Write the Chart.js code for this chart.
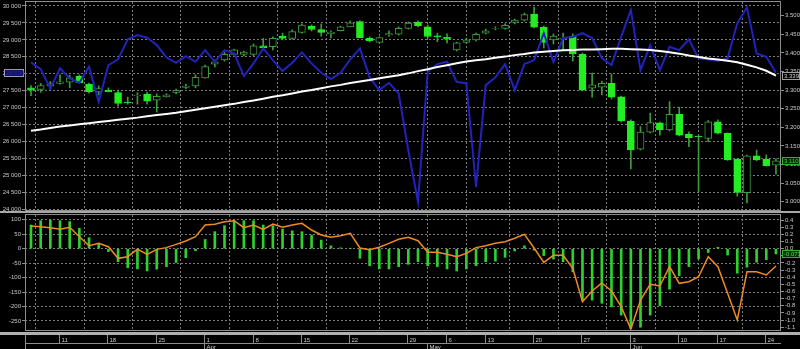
<!DOCTYPE html>
<html>
<head>
<meta charset="utf-8">
<script src="https://cdn.jsdelivr.net/npm/chart.js@4.4.1/dist/chart.umd.min.js"></script>
<style>
  body { margin: 0; background: #000; width: 800px; height: 349px; overflow: hidden; position: relative; }
  canvas { position: absolute; left: 0; }
  #top { top: 0; }
  #bottom { top: 213px; }
</style>
</head>
<body>
<canvas id="top" width="800" height="213"></canvas>
<canvas id="bottom" width="800" height="136"></canvas>
<script>
const dates = [
  '03-06','03-07','03-08',
  '03-11','03-12','03-13','03-14','03-15',
  '03-18','03-19','03-20','03-21','03-22',
  '03-25','03-26','03-27','03-28','03-29',
  '04-01','04-02','04-03','04-04','04-05',
  '04-08','04-09','04-10','04-11','04-12',
  '04-15','04-16','04-17','04-18','04-19',
  '04-22','04-23','04-24','04-25','04-26','04-27',
  '04-29','04-30','05-02','05-03',
  '05-06','05-07','05-08','05-09',
  '05-13','05-14','05-15','05-16','05-17',
  '05-20','05-21','05-22','05-23','05-24',
  '05-27','05-28','05-29','05-30','05-31',
  '06-03','06-04','06-05','06-06','06-07',
  '06-10','06-11','06-12','06-13',
  '06-17','06-18','06-19','06-20','06-21',
  '06-24','06-25'
];

const open = [3.306,3.302,3.311,3.318,3.321,3.337,3.316,3.295,3.300,3.293,
  3.268,3.285,3.289,3.273,3.282,3.294,3.307,3.311,3.333,3.370,
  3.381,3.396,3.396,3.396,3.419,3.417,3.445,3.439,3.455,3.472,
  3.463,3.452,3.460,3.470,3.484,3.439,3.428,3.448,3.450,3.466,
  3.483,3.470,3.446,3.442,3.408,3.428,3.435,3.453,3.466,3.466,
  3.482,3.488,3.504,3.469,3.435,3.437,3.444,3.396,3.305,3.308,
  3.318,3.282,3.217,3.141,3.187,3.212,3.193,3.235,3.181,3.176,
  3.170,3.215,3.184,3.114,3.024,3.123,3.114,3.098];
const high = [3.312,3.318,3.323,3.341,3.340,3.341,3.319,3.311,3.306,3.300,
  3.281,3.293,3.295,3.290,3.290,3.303,3.316,3.341,3.367,3.381,
  3.402,3.410,3.405,3.424,3.439,3.443,3.453,3.462,3.478,3.475,
  3.478,3.459,3.472,3.486,3.486,3.443,3.443,3.459,3.470,3.483,
  3.486,3.475,3.453,3.451,3.429,3.440,3.453,3.464,3.470,3.478,
  3.491,3.507,3.523,3.472,3.451,3.453,3.451,3.400,3.346,3.324,
  3.343,3.284,3.220,3.202,3.238,3.214,3.269,3.254,3.188,3.179,
  3.218,3.220,3.185,3.115,3.125,3.139,3.126,3.115];
const low = [3.285,3.294,3.300,3.316,3.306,3.319,3.292,3.287,3.295,3.257,
  3.262,3.262,3.262,3.241,3.281,3.290,3.304,3.306,3.332,3.362,
  3.378,3.394,3.392,3.392,3.408,3.408,3.437,3.437,3.453,3.459,
  3.445,3.440,3.459,3.470,3.440,3.429,3.427,3.445,3.448,3.464,
  3.470,3.440,3.430,3.427,3.405,3.427,3.432,3.451,3.462,3.464,
  3.478,3.486,3.467,3.413,3.424,3.408,3.378,3.298,3.281,3.287,
  3.276,3.214,3.088,3.139,3.185,3.179,3.190,3.177,3.148,3.027,
  3.161,3.182,3.111,3.015,2.997,3.110,3.096,3.074];
const close = [3.300,3.312,3.317,3.322,3.333,3.320,3.296,3.304,3.296,3.264,
  3.266,3.286,3.270,3.283,3.287,3.298,3.311,3.334,3.363,3.376,
  3.396,3.408,3.402,3.419,3.414,3.439,3.439,3.457,3.475,3.463,
  3.455,3.456,3.470,3.481,3.441,3.433,3.441,3.452,3.466,3.480,
  3.473,3.444,3.443,3.437,3.427,3.435,3.450,3.459,3.467,3.474,
  3.488,3.503,3.469,3.428,3.445,3.439,3.397,3.300,3.314,3.318,
  3.281,3.217,3.139,3.187,3.213,3.193,3.235,3.179,3.172,3.175,
  3.215,3.184,3.112,3.025,3.123,3.112,3.097,3.110];

// blue line, left axis
const indexLine = [28335,28138,27567,28160,27863,27733,28206,27171,28256,28424,
  29016,29143,29063,28847,28483,28324,28522,28354,28699,28354,
  28699,28601,27931,28305,28749,28404,28079,28324,28631,28305,
  28030,27842,28030,28424,28749,27892,27517,27733,27419,25743,
  24215,28058,28285,28354,27762,27714,24658,27665,27892,28285,
  27517,28285,28404,29200,28345,29054,29084,29202,29054,28463,
  28256,29093,29882,28108,28847,28108,28797,28699,29016,28454,
  28424,28383,28454,29488,29961,28601,28502,28030];

// white moving average, right axis
const avgLine = [3.191,3.194,3.198,3.202,3.205,3.208,3.211,3.214,3.217,3.220,
  3.223,3.226,3.230,3.233,3.236,3.239,3.243,3.247,3.251,3.255,
  3.259,3.263,3.268,3.272,3.277,3.282,3.286,3.291,3.296,3.300,
  3.305,3.310,3.314,3.319,3.323,3.327,3.332,3.336,3.340,3.345,
  3.351,3.356,3.362,3.367,3.372,3.377,3.380,3.383,3.387,3.390,
  3.394,3.397,3.401,3.403,3.405,3.407,3.408,3.409,3.409,3.410,
  3.411,3.411,3.410,3.409,3.408,3.405,3.402,3.398,3.393,3.389,
  3.385,3.382,3.379,3.375,3.368,3.361,3.352,3.339];

// lower panel
const histogram = [0.332,0.393,0.401,0.393,0.381,0.287,0.154,0.077,-0.040,-0.182,
  -0.267,-0.283,-0.312,-0.287,-0.251,-0.194,-0.126,-0.028,0.130,0.239,
  0.324,0.393,0.393,0.393,0.332,0.324,0.275,0.251,0.239,0.190,
  0.121,0.040,0.012,0.002,-0.134,-0.239,-0.283,-0.283,-0.251,-0.219,
  -0.182,-0.239,-0.251,-0.283,-0.312,-0.283,-0.239,-0.182,-0.174,-0.121,
  -0.032,0.040,-0.020,-0.097,-0.146,-0.182,-0.324,-0.721,-0.721,-0.765,
  -0.814,-0.931,-1.117,-1.101,-0.931,-0.798,-0.567,-0.381,-0.251,-0.142,
  -0.053,0.020,-0.089,-0.344,-0.259,-0.190,-0.154,-0.073];
const signal = [0.320,0.309,0.295,0.272,0.300,0.168,0.042,0.075,0.028,-0.135,
  -0.112,-0.005,-0.079,-0.009,0.015,0.061,0.108,0.168,0.332,0.342,
  0.379,0.393,0.295,0.332,0.272,0.346,0.300,0.332,0.356,0.262,
  0.192,0.160,0.182,0.216,0.010,-0.014,0.020,0.075,0.132,0.160,
  0.112,-0.051,-0.051,-0.079,-0.112,-0.065,0.015,0.042,0.075,0.098,
  0.146,0.202,0.010,-0.191,-0.093,-0.093,-0.275,-0.743,-0.593,-0.480,
  -0.593,-0.813,-1.126,-0.720,-0.500,-0.523,-0.252,-0.486,-0.463,-0.393,
  -0.112,-0.252,-0.626,-1.000,-0.323,-0.323,-0.369,-0.243];

// tick labels
const leftTicks = [24000,24500,25000,25500,26000,26500,27000,27500,28000,28500,29000,29500,30000];
const rightTicks = [3.0,3.05,3.1,3.15,3.2,3.25,3.3,3.35,3.4,3.45,3.5];
const oscLeftTicks = [100,50,0,-50,-100,-150,-200,-250];
const oscRightTicks = [0.4,0.3,0.2,0.1,0,-0.1,-0.2,-0.3,-0.4,-0.5,-0.6,-0.7,-0.8,-0.9,-1.0,-1.1];
const weekTicks = ['03-11','03-18','03-25','04-01','04-08','04-15','04-22','04-29','05-06','05-13','05-20','05-27','06-03','06-10','06-17','06-24'];
const monthStarts = ['04-01','05-02','06-03'];
const monthNames = ['Apr','May','Jun'];

const LABEL = '#c8c8c8';
const FRAME = '#8c8c8c';
const GRID = '#7a7a7a';
Chart.defaults.font.family = '"Liberation Sans", Arial, sans-serif';

const spaced = v => String(v).replace(/\B(?=(\d{3})+(?!\d))/g, ' ');
const pts = arr => arr.map((v, i) => ({ x: i, y: v }));

function xScale() {
  return {
    type: 'linear', min: -0.62, max: 77.52, offset: false,
    afterBuildTicks: s => { s.ticks = weekTicks.map(d => ({ value: dates.indexOf(d) })); },
    afterFit: s => { s.height = 0; s.paddingLeft = 0; s.paddingRight = 0; },
    ticks: { display: false },
    grid: { color: GRID, drawTicks: false, lineWidth: 1 },
    border: { display: false, dash: [2, 2] }
  };
}

function yScale(pos, min, max, ticks, width, fmt, drawGrid) {
  return {
    position: pos, min: min, max: max,
    afterBuildTicks: s => { s.ticks = ticks.map(v => ({ value: v })); },
    afterFit: s => { s.width = width; s.paddingTop = 0; s.paddingBottom = 0; },
    ticks: { color: LABEL, font: { size: 6 }, padding: 1, autoSkip: false, callback: fmt },
    grid: { color: GRID, lineWidth: 1, drawOnChartArea: drawGrid, tickColor: FRAME, tickLength: 3, tickBorderDash: [] },
    border: { display: false, dash: [2, 2] }
  };
}

function valueBox(ctx, x, w, y, text, fill, stroke, color) {
  ctx.fillStyle = fill;
  ctx.fillRect(x, Math.round(y) - 4, w, 8);
  ctx.strokeStyle = stroke;
  ctx.lineWidth = 1;
  ctx.strokeRect(x + 0.5, Math.round(y) - 3.5, w - 1, 7);
  ctx.fillStyle = color;
  ctx.font = '6px "Liberation Sans", Arial';
  ctx.textAlign = 'left';
  ctx.textBaseline = 'middle';
  ctx.fillText(text, x + 2, Math.round(y) + 0.5);
}

const topDecor = {
  id: 'topDecor',
  afterDraw(chart) {
    const { ctx, chartArea: a, scales } = chart;
    ctx.save();
    ctx.strokeStyle = FRAME;
    ctx.lineWidth = 1;
    ctx.strokeRect(a.left + 0.5, a.top - 0.5, a.right - a.left - 1, a.bottom - a.top + 1);
    ctx.fillStyle = '#a8a8a8';
    ctx.fillRect(0, 211, 800, 2);
    const n = dates.length - 1;
    valueBox(ctx, 4, 20, scales.y.getPixelForValue(indexLine[n]), spaced(indexLine[n]), '#12126c', '#9a9aaa', '#26269a');
    valueBox(ctx, 782, 18, scales.yR.getPixelForValue(avgLine[n]), avgLine[n].toFixed(3), '#000', '#a0a0a0', '#d0d0d0');
    valueBox(ctx, 782, 18, scales.yR.getPixelForValue(close[n]), close[n].toFixed(3), '#002800', '#30b030', '#40d040');
    ctx.restore();
  }
};

const bottomDecor = {
  id: 'bottomDecor',
  afterDraw(chart) {
    const { ctx, chartArea: a, scales } = chart;
    ctx.save();
    ctx.strokeStyle = FRAME;
    ctx.lineWidth = 1;
    ctx.strokeRect(a.left + 0.5, a.top - 0.5, a.right - a.left - 1, a.bottom - a.top + 1);
    const n = dates.length - 1;
    valueBox(ctx, 782, 18, scales.yR.getPixelForValue(histogram[n]), histogram[n].toFixed(4), '#003000', '#30b030', '#50e050');

    // date strip
    ctx.fillStyle = '#b0b0b0';
    ctx.fillRect(0, 119, 800, 3);
    ctx.strokeStyle = FRAME;
    ctx.beginPath();
    ctx.moveTo(a.left + 0.5, 122); ctx.lineTo(a.left + 0.5, 136);
    ctx.moveTo(a.left, 130.5); ctx.lineTo(a.right, 130.5);
    ctx.stroke();
    ctx.font = '6px "Liberation Sans", Arial';
    ctx.textAlign = 'left';
    ctx.textBaseline = 'alphabetic';
    ctx.fillStyle = LABEL;
    weekTicks.forEach(d => {
      const x = Math.round(scales.x.getPixelForValue(dates.indexOf(d))) - 0.5;
      ctx.beginPath(); ctx.moveTo(x, 122); ctx.lineTo(x, 130); ctx.stroke();
      ctx.fillText(String(parseInt(d.slice(3), 10)), x + 2, 129);
    });
    monthStarts.forEach((d, k) => {
      const x = Math.round(scales.x.getPixelForValue(dates.indexOf(d))) - 0.5;
      ctx.beginPath(); ctx.moveTo(x, 131); ctx.lineTo(x, 136); ctx.stroke();
      ctx.fillText(monthNames[k], x + 2, 135.5);
    });
    ctx.restore();
  }
};

const base = {
  responsive: false, animation: false, devicePixelRatio: 1, events: [],
  plugins: { legend: { display: false }, tooltip: { enabled: false } }
};

const upCandle = i => close[i] >= open[i];

new Chart('top', {
  type: 'bar',
  data: {
    datasets: [{
      type: 'line', label: 'avg', data: pts(avgLine), yAxisID: 'yR',
      borderColor: '#ffffff', borderWidth: 2, pointRadius: 0, tension: 0, order: 1
    }, {
      type: 'line', label: 'index', data: pts(indexLine), yAxisID: 'y',
      borderColor: '#2222bc', borderWidth: 2, pointRadius: 0, tension: 0, order: 2
    }, {
      label: 'body', data: dates.map((d, i) => ({ x: i, y: [open[i], close[i]] })), yAxisID: 'yR',
      grouped: false, barThickness: 7, borderSkipped: false, borderWidth: 1,
      backgroundColor: c => upCandle(c.dataIndex) ? '#000000' : '#22ee22',
      borderColor: c => upCandle(c.dataIndex) ? '#3c9c3c' : '#22ee22',
      order: 3
    }, {
      label: 'wick', data: dates.map((d, i) => ({ x: i, y: [low[i], high[i]] })), yAxisID: 'yR',
      grouped: false, barThickness: 1, borderWidth: 0,
      backgroundColor: '#3c9c3c', order: 4
    }]
  },
  options: Object.assign({}, base, {
    layout: { padding: { top: 2, bottom: 3, left: 0, right: 0 } },
    scales: {
      x: xScale(),
      y: yScale('left', 23979, 30118, leftTicks, 25, v => spaced(v), true),
      yR: yScale('right', 2.9777, 3.5368, rightTicks, 19, v => v.toFixed(3), false)
    }
  }),
  plugins: [topDecor]
});

new Chart('bottom', {
  type: 'bar',
  data: {
    datasets: [{
      type: 'line', label: 'signal', data: pts(signal), yAxisID: 'yR',
      borderColor: '#f08a24', borderWidth: 1.5, pointRadius: 0, tension: 0, order: 1
    }, {
      label: 'histogram', data: pts(histogram), yAxisID: 'yR',
      barThickness: 2, backgroundColor: '#2ed02e', borderWidth: 0, order: 2
    }]
  },
  options: Object.assign({}, base, {
    layout: { padding: { top: 2, bottom: 19, left: 0, right: 0 } },
    scales: {
      x: xScale(),
      y: yScale('left', -281.6, 116.7, oscLeftTicks, 25, v => String(v), true),
      yR: yScale('right', -1.140, 0.4727, oscRightTicks, 19, v => v.toFixed(1), false)
    }
  }),
  plugins: [bottomDecor]
});
</script>
</body>
</html>
